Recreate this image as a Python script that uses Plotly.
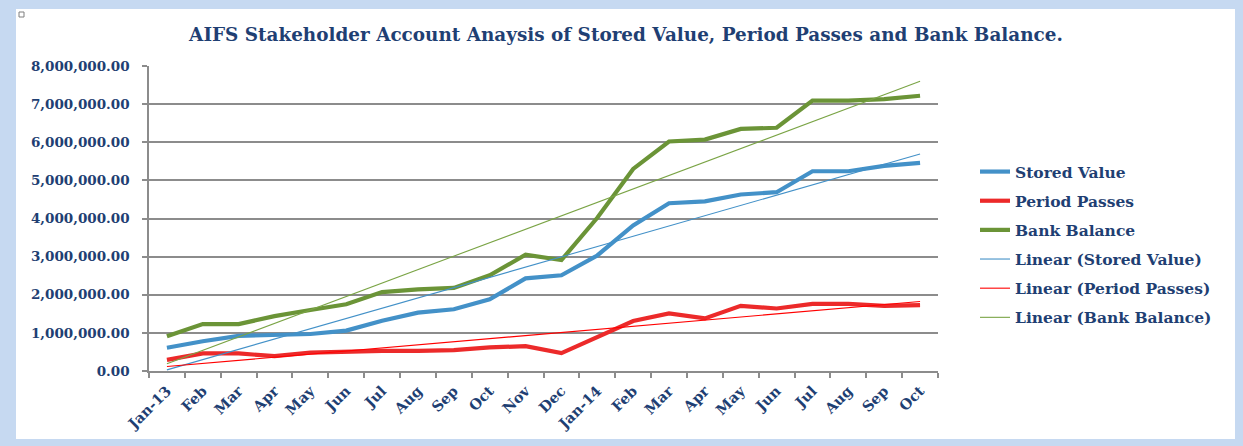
import numpy as np
import plotly.graph_objects as go

# ---- data ----
month_ids = ["2013-01", "2013-02", "2013-03", "2013-04", "2013-05", "2013-06",
             "2013-07", "2013-08", "2013-09", "2013-10", "2013-11", "2013-12",
             "2014-01", "2014-02", "2014-03", "2014-04", "2014-05", "2014-06",
             "2014-07", "2014-08", "2014-09", "2014-10"]
month_labels = ["Jan-13", "Feb", "Mar", "Apr", "May", "Jun", "Jul", "Aug", "Sep",
                "Oct", "Nov", "Dec", "Jan-14", "Feb", "Mar", "Apr", "May", "Jun",
                "Jul", "Aug", "Sep", "Oct"]
stored_value = [610000, 780000, 920000, 950000, 970000, 1060000, 1320000, 1530000,
                1620000, 1880000, 2430000, 2510000, 3030000, 3820000, 4400000,
                4450000, 4630000, 4690000, 5240000, 5240000, 5380000, 5460000]
period_passes = [290000, 460000, 460000, 390000, 480000, 510000, 530000, 530000,
                 550000, 620000, 650000, 470000, 890000, 1310000, 1510000,
                 1380000, 1710000, 1640000, 1760000, 1760000, 1710000, 1730000]
bank_balance = [910000, 1230000, 1230000, 1440000, 1600000, 1750000, 2070000,
                2140000, 2180000, 2510000, 3050000, 2910000, 4020000, 5300000,
                6020000, 6070000, 6350000, 6380000, 7090000, 7090000, 7130000,
                7220000]

series = [
    ("Stored Value", stored_value, "#4391C8", "#4391C8"),
    ("Period Passes", period_passes, "#EC2A2A", "#FF0000"),
    ("Bank Balance", bank_balance, "#6B9437", "#7AA445"),
]

navy = "#1F3F73"
W, H = 1243, 446
L, R, T, B = 149, 305, 66, 75
pw, ph = W - L - R, H - T - B


def px_x(p):
    return (p - L) / pw


def px_y(p):
    return (H - B - p) / ph


fig = go.Figure()
for name, vals, col, _ in series:
    fig.add_trace(go.Scatter(x=month_ids, y=vals, mode="lines", name=name,
                             line=dict(color=col, width=4.2), legendgroup=name))

idx = np.arange(1, len(month_ids) + 1)
for name, vals, _, tcol in series:
    slope, icpt = np.polyfit(idx, np.array(vals, dtype=float), 1)
    trend = slope * idx + icpt
    fig.add_trace(go.Scatter(x=month_ids, y=trend, mode="lines",
                             name=f"Linear ({name})",
                             line=dict(color=tcol, width=1.1),
                             legendgroup="t" + name))

fig.update_layout(
    width=W, height=H,
    margin=dict(l=L, r=R, t=T, b=B, autoexpand=False),
    paper_bgcolor="#C6D9F1",
    plot_bgcolor="rgba(0,0,0,0)",
    title=dict(
        text="AIFS Stakeholder Account Anaysis of Stored Value, Period Passes and Bank Balance.",
        x=626 / W, xref="container", xanchor="center",
        y=1 - 35 / H, yref="container", yanchor="middle",
        font=dict(family="DejaVu Serif", size=18.4, color=navy, weight="bold"),
    ),
    legend=dict(
        x=px_x(975), y=px_y(155), xanchor="left", yanchor="top",
        bgcolor="rgba(0,0,0,0)",
        font=dict(family="DejaVu Serif", size=15.5, color=navy, weight="bold"),
        traceorder="grouped", tracegroupgap=6,
    ),
    xaxis=dict(
        type="category", tickvals=month_ids, ticktext=month_labels,
        tickson="boundaries", ticks="outside", ticklen=5, tickcolor="#8C8C8C",
        tickwidth=1.5,
        tickangle=-45, showgrid=False, showline=True, linecolor="#8C8C8C",
        linewidth=1.5, ticklabelstandoff=4,
        tickfont=dict(family="DejaVu Serif", size=14.5, color=navy, weight="bold"),
        range=[-0.5, len(month_ids) - 0.5], fixedrange=True,
    ),
    yaxis=dict(
        range=[0, 8000000], dtick=1000000, tickformat=",.2f",
        showgrid=True, gridcolor="#8C8C8C", gridwidth=1.5,
        showline=True, linecolor="#8C8C8C", linewidth=1.5,
        ticks="outside", ticklen=5, tickcolor="#8C8C8C", tickwidth=1.5,
        zeroline=False, ticklabelstandoff=10,
        tickfont=dict(family="DejaVu Serif", size=13.5, color=navy, weight="bold"),
    ),
    shapes=[
        dict(type="rect", xref="paper", yref="paper", layer="below",
             x0=px_x(16), x1=px_x(1235), y0=px_y(439), y1=px_y(9),
             fillcolor="white", line=dict(width=0)),
        dict(type="rect", xref="paper", yref="paper", layer="above",
             x0=px_x(19), x1=px_x(24), y0=px_y(17), y1=px_y(12),
             fillcolor="white", line=dict(width=1, color="#7F7F7F")),
    ],
)

fig.write_html("out.html", config={"displayModeBar": False},
               post_script="document.body.style.margin='0';")
